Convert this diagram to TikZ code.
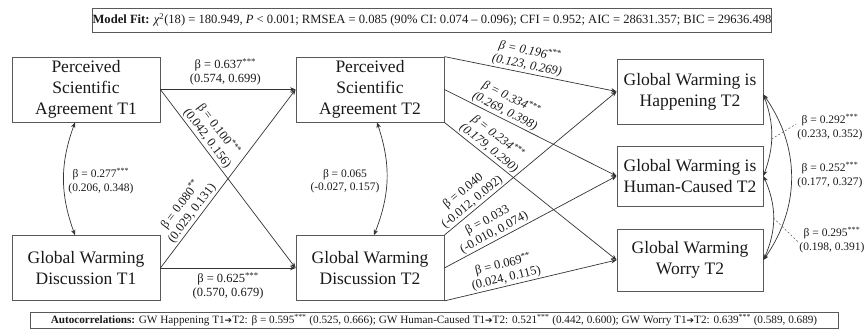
\documentclass[tikz,border=0pt]{standalone}
\usepackage{fontspec}
\setmainfont{Liberation Serif}
\newfontfamily\dejavu{DejaVu Sans}
\usetikzlibrary{arrows.meta}
\newcommand\boxfont{\fontsize{17.5}{21}\selectfont}
\newcommand\labfont{\fontsize{12.5}{14}\selectfont}
\newcommand\smlfont{\fontsize{11.5}{13.5}\selectfont}
\newcommand\infofont{\fontsize{12.6}{14}\selectfont}
\newcommand\autofont{\fontsize{11.2}{12}\selectfont}
\newcommand\stars[1]{\textsuperscript{#1}}
\newcommand\heavyarrow{{\dejavu\fontsize{9}{10}\selectfont ➔}}
\begin{document}
\begin{tikzpicture}[x=1pt,y=1pt,
  box/.style={draw=black!65, line width=0.8pt, minimum width=148pt, minimum height=65pt, inner sep=0pt, align=center, font=\boxfont, text=black!90},
  rbox/.style={box, minimum width=146pt},
  infobox/.style={draw=black!65, line width=0.8pt, inner sep=0pt, align=center, text=black!90},
  effect/.style={draw=black!80, line width=0.7pt, -{Stealth[length=5.5pt,width=4.5pt]}},
  biarrow/.style={draw=black!80, line width=0.7pt, {Stealth[length=5.5pt,width=4.5pt]}-{Stealth[length=5.5pt,width=4.5pt]}},
  lab/.style={font=\labfont, align=center, inner sep=1.5pt, text=black!90},
  labit/.style={lab, font=\labfont\itshape},
  smlab/.style={font=\smlfont, align=center, inner sep=1pt, text=black!90},
  leader/.style={draw=black!65, line width=0.5pt, dash pattern=on 2pt off 2pt}]
\useasboundingbox (0,0) rectangle (865,-329);

% info boxes
\node[infobox, font=\infofont, minimum width=672pt, minimum height=24pt] (fit) at (432,-20)
  {\textbf{Model Fit:} {\itshape χ}\textsuperscript{2}(18) = 180.949, {\itshape P} < 0.001; RMSEA = 0.085 (90\% CI: 0.074 – 0.096); CFI = 0.952; AIC = 28631.357; BIC = 29636.498};
\node[infobox, font=\autofont, minimum width=808pt, minimum height=16pt] (auto) at (434,-320.5)
  {\textbf{Autocorrelations:} GW Happening T1\heavyarrow T2: β = 0.595\stars{***} (0.525, 0.666); GW Human-Caused T1\heavyarrow T2: 0.521\stars{***} (0.442, 0.600); GW Worry T1\heavyarrow T2: 0.639\stars{***} (0.589, 0.689)};

% boxes
\node[box] (psa1) at (86,-89.5) {Perceived\\Scientific\\Agreement T1};
\node[box] (gwd1) at (86,-268) {Global Warming\\Discussion T1};
\node[box] (psa2) at (370,-89.5) {Perceived\\Scientific\\Agreement T2};
\node[box] (gwd2) at (370,-268) {Global Warming\\Discussion T2};
\node[rbox] (hap) at (690,-91.5) {Global Warming is\\Happening T2};
\node[rbox, minimum height=60pt] (hum) at (690,-176) {Global Warming is\\Human-Caused T2};
\node[rbox, minimum height=62pt] (wor) at (690,-260) {Global Warming\\Worry T2};

% T1 -> T2
\draw[effect] (psa1.east) -- node[lab, above=2pt, pos=0.48] {β = 0.637\stars{***}\\(0.574, 0.699)} (psa2.west);
\draw[effect] (gwd1.east) -- node[lab, below=3pt, pos=0.5] {β = 0.625\stars{***}\\(0.570, 0.679)} (gwd2.west);
\draw[effect] (psa1.east) -- node[lab, sloped, above, pos=0.30] {β = 0.100\stars{***}\\(0.042, 0.156)} (gwd2.west);
\draw[effect] (gwd1.east) -- node[lab, sloped, above, pos=0.28] {β = 0.080\stars{**}\\(0.029, 0.131)} (psa2.west);

% T2 -> outcomes
\draw[effect] (psa2.north east) -- node[labit, sloped, above, pos=0.47] {β = 0.196\stars{***}\\(0.123, 0.269)} (hap.west);
\draw[effect] (psa2.east) -- node[labit, sloped, above, pos=0.33] {β = 0.334\stars{***}\\(0.269, 0.398)} (hum.west);
\draw[effect] (psa2.south east) -- node[labit, sloped, above, pos=0.23] {β = 0.234\stars{***}\\(0.179, 0.290)} (wor.west);
\draw[effect] (gwd2.north east) -- node[lab, sloped, above, pos=0.19] {β = 0.040\\(-0.012, 0.092)} (hap.west);
\draw[effect] (gwd2.east) -- node[lab, sloped, above, pos=0.31] {β = 0.033\\(-0.010, 0.074)} (hum.west);
\draw[effect] (gwd2.south east) -- node[lab, sloped, above, pos=0.37] {β = 0.069\stars{**}\\(0.024, 0.115)} (wor.west);

% correlations T1, T2
\draw[biarrow] ([xshift=-11pt]psa1.south) to[bend right=20] ([xshift=-11pt]gwd1.north);
\node[smlab] (l277) at (101,-181) {β = 0.277\stars{***}\\(0.206, 0.348)};
\draw[biarrow] ([xshift=7pt]psa2.south) to[bend left=20] ([xshift=4pt]gwd2.north);
\node[smlab] (l065) at (345,-181) {β = 0.065\\(-0.027, 0.157)};

% residual correlations
\draw[biarrow] ([yshift=-3pt]hap.east) to[bend left=20] coordinate[pos=0.55] (c1) (hum.east);
\draw[biarrow] ([yshift=-3pt]hap.east) to[bend left=35] (wor.east);
\draw[biarrow] (hum.east) to[bend left=24] coordinate[pos=0.5] (c3) (wor.east);
\node[smlab] (l292) at (830,-127) {β = 0.292\stars{***}\\(0.233, 0.352)};
\node[smlab] (l252) at (830,-175) {β = 0.252\stars{***}\\(0.177, 0.327)};
\node[smlab] (l295) at (832,-240) {β = 0.295\stars{***}\\(0.198, 0.391)};
\draw[leader] (c1) -- ([yshift=3pt]l292.west);
\draw[leader] (c3) -- ([yshift=-2pt]l295.west);
\end{tikzpicture}
\end{document}
